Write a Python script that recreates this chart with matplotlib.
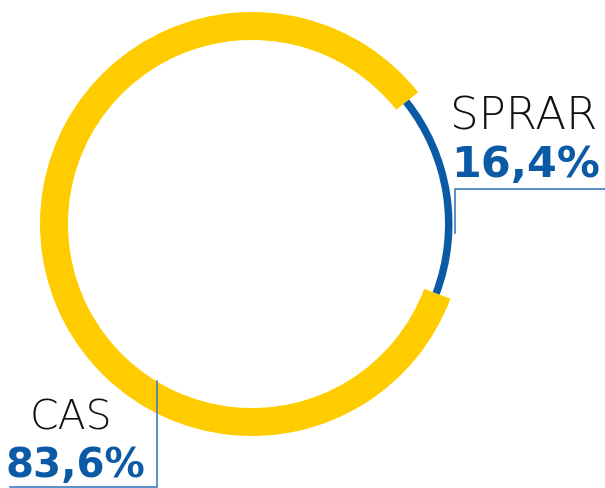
import matplotlib
matplotlib.use("Agg")
import matplotlib.pyplot as plt

# Data
categories = ["CAS", "SPRAR"]
shares = [83.6, 16.4]
value_labels = ["83,6%", "16,4%"]

YELLOW = "#FFCC00"
BLUE = "#0B5AA5"
LINE_BLUE = "#3F7BC0"

W, H = 605, 488
fig = plt.figure(figsize=(W / 100, H / 100), dpi=100)
ax = fig.add_axes([0, 0, 1, 1])

def Y(y):
    return H - y

cx, cy = 252, Y(224)
R_out = 212
band = 28
r_blue = 200.5
w_blue = 7.5

# Yellow thick ring (CAS)
ax.pie(shares, colors=[YELLOW, "none"], startangle=38.4, counterclock=True,
       radius=R_out, center=(cx, cy),
       wedgeprops=dict(width=band, linewidth=0, edgecolor="none"))
# Blue thin ring (SPRAR)
ax.pie(shares, colors=["none", BLUE], startangle=38.4, counterclock=True,
       radius=r_blue, center=(cx, cy),
       wedgeprops=dict(width=w_blue, linewidth=0, edgecolor="none"))

ax.set_xlim(0, W)
ax.set_ylim(0, H)
ax.set_aspect("equal")
ax.axis("off")

# Leader lines
ax.plot([455, 455, 605], [Y(233), Y(189), Y(189)], color=LINE_BLUE, lw=1.2,
        solid_joinstyle="miter")
ax.plot([157, 157, 10], [Y(381), Y(487), Y(487)], color=LINE_BLUE, lw=1.2,
        solid_joinstyle="miter")

# Labels
ax.text(450, Y(130), categories[1], family="DejaVu Sans", weight=200,
        fontsize=32.5, color="#111111", ha="left", va="baseline")
ax.text(451, Y(177), value_labels[1], family="DejaVu Sans", weight="bold",
        fontsize=31, color=BLUE, ha="left", va="baseline")
ax.text(30, Y(430), categories[0], family="DejaVu Sans", weight=200,
        fontsize=29.5, color="#111111", ha="left", va="baseline")
ax.text(6, Y(477), value_labels[0], family="DejaVu Sans", weight="bold",
        fontsize=29, color=BLUE, ha="left", va="baseline")

fig.savefig("out.png", dpi=100, facecolor="white")
